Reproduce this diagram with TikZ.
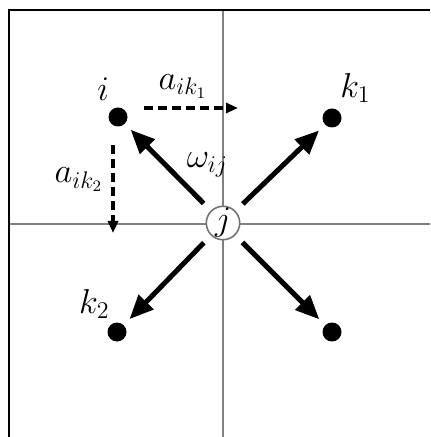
\documentclass[tikz,border=0pt]{standalone}
\usetikzlibrary{arrows.meta, positioning}

\begin{document}
\begin{tikzpicture}[
        x=0.5pt, y=-0.5pt,
        dot/.style={circle, fill=black, inner sep=0pt, minimum size=9.5pt},
        centre/.style={circle, draw=black!55, line width=0.8pt, fill=white,
                       inner sep=0pt, minimum size=16pt, font=\fontsize{16}{18}\selectfont},
        lbl/.style={font=\fontsize{17}{19}\selectfont, inner sep=1pt},
        axisline/.style={draw=black!50, line width=1pt},
        link/.style={-{Triangle[length=12pt, width=10pt]}, line width=2.5pt,
                     shorten <=5pt, shorten >=4pt},
        dist/.style={-{Triangle[length=6pt, width=5pt]}, line width=1.8pt,
                     dash pattern=on 4.5pt off 2.5pt},
    ]
        \useasboundingbox (0,0) rectangle (430,437);

        % frame and centre lines
        \draw[axisline] (223,10) -- (223,437);
        \draw[axisline] (9,224) -- (430,224);
        \draw[line width=1.2pt] (9,437) -- (9,10) -- (430,10);

        \node[centre] (j) at (223,223) {$j$};
        \node[dot, label={[lbl, label distance=3pt]115:$i$}] (i) at (118,117) {};
        \node[dot, label={[lbl, label distance=2pt]65:$k_1$}] (k1) at (332,118) {};
        \node[dot, label={[lbl, label distance=1pt]115:$k_2$}] (k2) at (117,332) {};
        \node[dot] (k3) at (332,332) {};

        \draw[link] (j) -- node[pos=0.33, anchor=south west, lbl] {$\omega_{ij}$} (i);
        \draw[link] (j) -- (k1);
        \draw[link] (j) -- (k2);
        \draw[link] (j) -- (k3);

        % distances
        \coordinate (ik1) at (238,108);
        \coordinate (ik2) at (113,233);
        \draw[dist, shorten <=8pt] (i.east |- ik1) -- node[above, lbl, yshift=3pt] {$a_{ik_1}$} (ik1);
        \draw[dist, shorten <=9pt] (i.south -| ik2) -- node[left, lbl, xshift=-3pt] {$a_{ik_2}$} (ik2);
    \end{tikzpicture}
\end{document}
